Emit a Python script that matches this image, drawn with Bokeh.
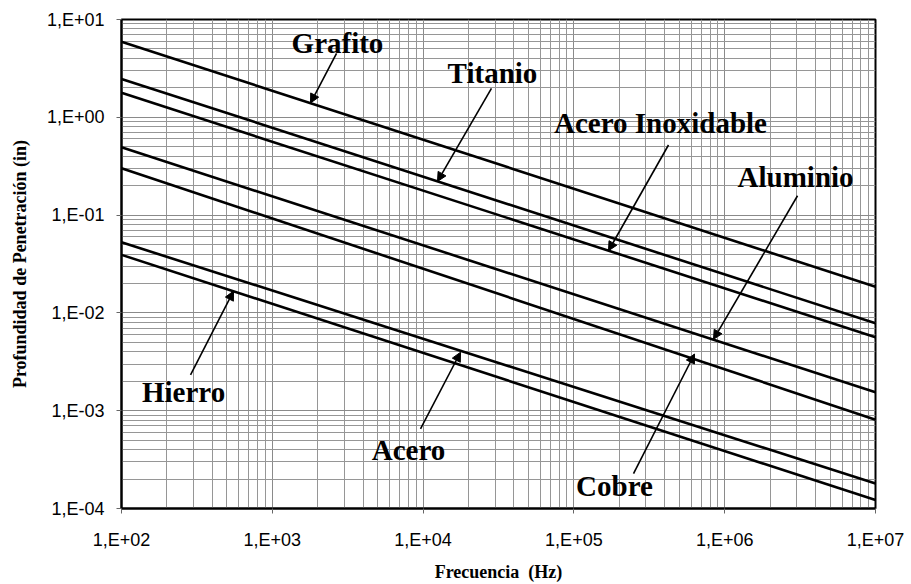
from bokeh.plotting import figure
from bokeh.models import FixedTicker, Arrow, NormalHead, ColumnDataSource
from bokeh.core.properties import value
from bokeh.embed import file_html
from bokeh.resources import INLINE

# ---- data (penetration depth, inches) at the two ends of the frequency axis ----
freq = [1e2, 1e7]
grafito = [5.93, 0.0185]
titanio = [2.47, 0.00783]
acero_inox = [1.78, 0.00564]
aluminio = [0.493, 0.00154]
cobre = [0.302, 0.00081]
acero = [0.0527, 0.000180]
hierro = [0.0392, 0.000122]
series = [grafito, titanio, acero_inox, aluminio, cobre, acero, hierro]

x_ticks = [1e2, 1e3, 1e4, 1e5, 1e6, 1e7]
x_tick_labels = ["1,E+02", "1,E+03", "1,E+04", "1,E+05", "1,E+06", "1,E+07"]
y_ticks = [1e-4, 1e-3, 1e-2, 1e-1, 1e0, 1e1]
y_tick_labels = ["1,E-04", "1,E-03", "1,E-02", "1,E-01", "1,E+00", "1,E+01"]

label_names = ["Grafito", "Titanio", "Acero Inoxidable", "Aluminio", "Hierro", "Acero", "Cobre"]
label_x = [2705, 28840, 375000, 2.95e6, 258, 8000, 185900]
label_y = [5.70, 2.82, 0.873, 0.246, 0.00155, 0.000399, 0.000171]

arrow_x0 = [2667, 28400, 424000, 3.04e6, 287, 9612, 248500]
arrow_y0 = [4.51, 1.98, 0.521, 0.1576, 0.00232, 0.000653, 0.000227]
arrow_x1 = [1792, 12460, 169600, 843000, 553, 17700, 630500]
arrow_y1 = [1.40, 0.221, 0.0432, 0.00537, 0.0167, 0.00396, 0.0038]

minor_x = [m * 10.0 ** e for e in range(2, 7) for m in range(2, 10)]
minor_y = [m * 10.0 ** e for e in range(-4, 1) for m in range(2, 10)]

p = figure(width=909, height=584, x_axis_type="log", y_axis_type="log",
           x_range=(1e2, 1e7), y_range=(1e-4, 1e1),
           output_backend="svg", toolbar_location=None,
           min_border_left=121, min_border_right=34, min_border_top=19, min_border_bottom=74)

p.background_fill_color = "white"
p.border_fill_color = "white"
p.outline_line_color = "black"
p.outline_line_width = 2

p.xaxis.ticker = FixedTicker(ticks=x_ticks, minor_ticks=minor_x)
p.yaxis.ticker = FixedTicker(ticks=y_ticks, minor_ticks=minor_y)
p.xaxis.major_label_overrides = dict(zip(x_ticks, x_tick_labels))
p.yaxis.major_label_overrides = dict(zip(y_ticks, y_tick_labels))

for ax in (p.xaxis, p.yaxis):
    ax.major_label_text_font = "Liberation Sans"
    ax.major_label_text_font_size = "18px"
    ax.major_label_text_color = "black"
    ax.major_tick_in = 0
    ax.major_tick_out = 5
    ax.major_tick_line_color = "#666666"
    ax.minor_tick_in = 0
    ax.minor_tick_out = 0
    ax.axis_line_color = "black"
    ax.axis_line_width = 2
    ax.axis_label_text_font = "Liberation Serif"
    ax.axis_label_text_font_style = "bold"
    ax.axis_label_text_font_size = "18px"
    ax.axis_label_text_color = "black"

p.xaxis.axis_label = "Frecuencia \u00a0(Hz)"
p.yaxis.axis_label = "Profundidad de Penetración (in)"
p.xaxis.major_label_standoff = 16
p.xaxis.axis_label_standoff = 9
p.yaxis.major_label_standoff = 12
p.yaxis.axis_label_standoff = 14

for g in (p.xgrid, p.ygrid):
    g.grid_line_color = "#8a8a8a"
    g.grid_line_width = 1
    g.minor_grid_line_color = "#969696"
    g.minor_grid_line_width = 1

for s in series:
    p.line(freq, s, line_color="black", line_width=2.6)

for x0, y0, x1, y1 in zip(arrow_x0, arrow_y0, arrow_x1, arrow_y1):
    p.add_layout(Arrow(x_start=x0, y_start=y0, x_end=x1, y_end=y1,
                       line_color="black", line_width=1.6,
                       end=NormalHead(size=9, fill_color="black", line_color="black", line_width=1)))

src = ColumnDataSource(dict(x=label_x, y=label_y, t=label_names))
p.text(x="x", y="y", text="t", source=src, text_font=value("Liberation Serif"),
       text_font_style="bold", text_font_size="29px", text_color="black",
       text_align="center", text_baseline="middle")

open("out.html", "w").write(file_html(p, INLINE))
